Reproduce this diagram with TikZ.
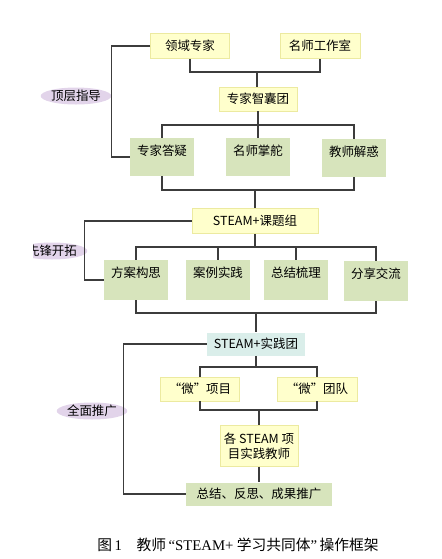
\documentclass[tikz,border=0pt]{standalone}
\usepackage{fontspec}
\setmainfont{Noto Sans CJK SC}
\newfontfamily\capserif{Liberation Serif}
\usetikzlibrary{shapes.geometric}

\definecolor{boxyellow}{RGB}{255,255,204}
\definecolor{edgeyellow}{RGB}{236,234,160}
\definecolor{boxgreen}{RGB}{215,228,188}
\definecolor{boxcyan}{RGB}{218,238,234}
\definecolor{tagpurple}{RGB}{226,212,234}
\definecolor{linegray}{RGB}{60,60,60}

\tikzset{
  ybox/.style={draw=edgeyellow, fill=boxyellow, inner sep=0pt, minimum height=0.5cm},
  gbox/.style={fill=boxgreen, inner sep=0pt, minimum width=1.28cm, text height=0.34cm, text depth=0.42cm},
  tag/.style={ellipse, fill=tagpurple, inner sep=0pt, minimum width=1.3cm, minimum height=0.34cm},
  link/.style={draw=linegray, line width=0.6pt},
}

\begin{document}
\begin{tikzpicture}[x=0.02cm, y=-0.02cm, font=\fontsize{7.1pt}{8.5pt}\selectfont]
\useasboundingbox (0,0) rectangle (441,559);

% expert level
\node[ybox, minimum width=1.58cm] (lyzj) at (190,46) {领域专家};
\node[ybox, minimum width=1.6cm] (mswgs) at (320,46) {名师工作室};
\node[ybox, minimum width=1.56cm, minimum height=0.48cm] (zjznt) at (258,99) {专家智囊团};
\node[gbox] (zjdy) at (162,157) {专家答疑};
\node[gbox] (msdd) at (258,157) {名师掌舵};
\node[gbox, minimum width=1.3cm] (jsjh) at (354,158) {教师解惑};
\node[tag] (dczd) at (76,96) {顶层指导};

% topic group
\node[ybox, minimum width=2.52cm] (ktz) at (255,221) {STEAM+课题组};
\node[gbox, text depth=0.46cm] (fags) at (136,280) {方案构思};
\node[gbox, text depth=0.46cm] (alsj) at (218,280) {案例实践};
\node[gbox, text depth=0.46cm] (zjsl) at (296,280) {总结梳理};
\node[gbox, text depth=0.46cm] (fxjl) at (376,281) {分享交流};
\begin{scope}
  \clip (33,230) rectangle (120,275);
  \node[tag] (xfkt) at (52,251) {先锋开拓};
\end{scope}

% practice group
\node[fill=boxcyan, inner sep=0pt, minimum width=1.96cm, minimum height=0.46cm] (sjt) at (256,344) {STEAM+实践团};
\node[ybox, minimum width=1.58cm, minimum height=0.48cm] (wxm) at (200,389) {“微”项目};
\node[ybox, minimum width=1.6cm, minimum height=0.48cm] (wtd) at (317,389) {“微”团队};
\node[ybox, minimum width=1.56cm, minimum height=0.82cm, align=center] (gjs) at (259,446) {各 STEAM 项\\目实践教师};
\node[fill=boxgreen, inner sep=0pt, minimum width=2.92cm, minimum height=0.46cm] (zjfs) at (259,494) {总结、反思、成果推广};
\node[tag] (qmtg) at (92,411) {全面推广};

% caption
\node[font=\fontsize{8.4pt}{10pt}\selectfont] (cap) at (238,545) {图\,{\capserif 1}\quad 教师\,{\capserif “STEAM+} 学习共同体{\capserif ”}\,操作框架};

% connectors
\coordinate (ja) at (257,72);
\draw[link] (lyzj.south) |- (ja) -| (mswgs.south);
\draw[link] (ja) -- (ja |- zjznt.north);
\coordinate (jb) at (258,125);
\draw[link] (zjznt.south) -- (jb);
\draw[link] (zjdy.north) |- (jb) -| (jsjh.north);
\draw[link] (jb) -- (msdd.north);
\coordinate (jc) at (255,190);
\draw[link] (zjdy.south) |- (jc) -| (jsjh.south);
\draw[link] (jc) -- (ktz.north);
\draw[link] (lyzj.west) -- ++(-39,0) |- (zjdy.west);

\coordinate (jd) at (255,247);
\draw[link] (ktz.south) -- (jd);
\draw[link] (fags.north) |- (jd) -| (fxjl.north);
\draw[link] (alsj.north) -- (alsj.north |- jd);
\draw[link] (zjsl.north) -- (zjsl.north |- jd);
\coordinate (je) at (256,313);
\draw[link] (fags.south) |- (je) -| (fxjl.south);
\draw[link] (je) -- (je |- sjt.north);
\draw[link] (ktz.west) -- ++(-107,0) |- (fags.west);

\coordinate (jf) at (256,367);
\draw[link] (sjt.south) -- (jf);
\draw[link] (wxm.north) |- (jf) -| (wtd.north);
\coordinate (jg) at (259,410);
\draw[link] (wxm.south) |- (jg) -| (wtd.south);
\draw[link] (jg) -- (gjs.north);
\draw[link] (gjs.south) -- (zjfs.north);
\draw[link] (sjt.west) -- ++(-83,0) |- (zjfs.west);
\end{tikzpicture}
\end{document}
